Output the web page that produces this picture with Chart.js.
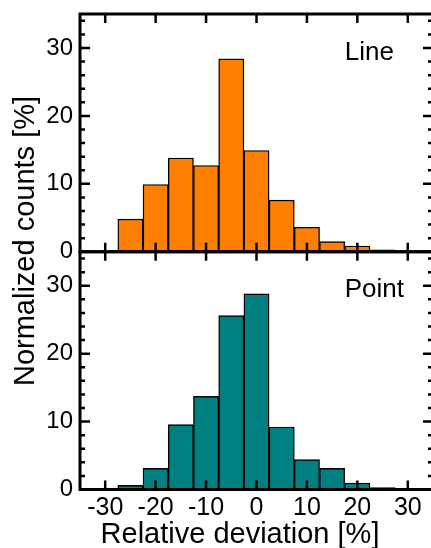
<!DOCTYPE html>
<html>
<head>
<meta charset="utf-8">
<script src="https://cdn.jsdelivr.net/npm/chart.js@4/dist/chart.umd.min.js"></script>
<style>
html, body { margin: 0; padding: 0; background: #fff; overflow: hidden; }
#wrap { position: relative; width: 436px; height: 548px; }
</style>
</head>
<body>
<div id="wrap"><canvas id="c" width="436" height="548"></canvas></div>
<script>
// bin centres [%] and normalized counts [%]
const binCenters  = [-25, -20, -15, -10, -5, 0, 5, 10, 15, 20, 25];
const lineCounts  = [4.8, 9.9, 13.8, 12.7, 28.4, 14.9, 7.6, 3.6, 1.5, 0.85, 0.3];
const pointCounts = [0.6, 3.1, 9.55, 13.7, 25.6, 28.8, 9.2, 4.4, 3.1, 0.95, 0.3];

const xTicks      = [-30, -20, -10, 0, 10, 20, 30];
const yTicks      = [0, 10, 20, 30];
const yMinorTicks = [2, 4, 6, 8, 12, 14, 16, 18, 22, 24, 26, 28, 32, 34];
const panelNames  = ['Line', 'Point'];
const xTitle      = 'Relative deviation [%]';
const yTitle      = 'Normalized counts [%]';

const FONT = '"Liberation Sans", Arial, Helvetica, sans-serif';
Chart.defaults.font.family = FONT;
Chart.defaults.color = '#000';

function points(ys) { return binCenters.map((x, i) => ({ x: x, y: ys[i] })); }

// --- frame, inward ticks, panel names, axis titles -------------------------
// (both titles sit on the centre of the whole figure, not of the plot box)
const framePlugin = {
	id: 'frame',
	afterDatasetsDraw(chart) {
		const ctx = chart.ctx;
		const xs  = chart.scales.x;
		const panels = [chart.scales.yTop, chart.scales.yBot];
		ctx.save();
		ctx.strokeStyle = '#000';
		ctx.fillStyle = '#000';
		panels.forEach((ys, k) => {
			const l = xs.left, r = xs.right, t = ys.top, b = ys.bottom;
			ctx.lineWidth = 2.5;
			ctx.beginPath();
			xTicks.forEach(v => {
				const px = xs.getPixelForValue(v);
				ctx.moveTo(px, t); ctx.lineTo(px, t + 9);
				ctx.moveTo(px, b); ctx.lineTo(px, b - 9);
			});
			yTicks.forEach(v => {
				const py = ys.getPixelForValue(v);
				ctx.moveTo(l, py); ctx.lineTo(l + 10, py);
				ctx.moveTo(r, py); ctx.lineTo(r - 10, py);
			});
			yMinorTicks.forEach(v => {
				const py = ys.getPixelForValue(v);
				ctx.moveTo(l, py); ctx.lineTo(l + 5, py);
				ctx.moveTo(r, py); ctx.lineTo(r - 5, py);
			});
			ctx.stroke();
			ctx.lineWidth = 3;
			ctx.strokeRect(l, t, r - l, b - t);

			ctx.font = '26px ' + FONT;
			ctx.textAlign = 'left';
			ctx.textBaseline = 'alphabetic';
			ctx.fillText(panelNames[k], xs.getPixelForValue(17.5), ys.getPixelForValue(28.3));
		});

		ctx.font = '29px ' + FONT;
		ctx.textAlign = 'center';
		ctx.textBaseline = 'alphabetic';
		ctx.fillText(xTitle, 240, 543);

		ctx.translate(26, 241);
		ctx.rotate(-Math.PI / 2);
		ctx.textBaseline = 'middle';
		ctx.fillText(yTitle, 0, 0);
		ctx.restore();
	}
};

function yScale() {
	return {
		type: 'linear', position: 'left', stack: 'panels', stackWeight: 1,
		min: 0, max: 35,
		grid: { display: false, drawTicks: false },
		border: { display: false },
		afterBuildTicks: s => { s.ticks = yTicks.map(v => ({ value: v })); },
		afterFit: s => { s.width = 80; s.paddingTop = 0; s.paddingBottom = 0; },
		ticks: { autoSkip: false, padding: 7, font: { size: 24 }, color: '#000' }
	};
}

new Chart(document.getElementById('c'), {
	type: 'bar',
	data: {
		datasets: [
			{ label: 'Line', data: points(lineCounts), yAxisID: 'yTop', grouped: false,
			  backgroundColor: '#ff8000', borderColor: '#000', borderWidth: 1.4,
			  barPercentage: 1, categoryPercentage: 1 },
			{ label: 'Point', data: points(pointCounts), yAxisID: 'yBot', grouped: false,
			  backgroundColor: '#008080', borderColor: '#000', borderWidth: 1.4,
			  barPercentage: 1, categoryPercentage: 1 }
		]
	},
	options: {
		responsive: false,
		animation: false,
		devicePixelRatio: 1,
		layout: { padding: { top: 14, right: 3, left: 0, bottom: 0 } },
		plugins: { legend: { display: false }, tooltip: { enabled: false } },
		scales: {
			x: {
				type: 'linear', position: 'bottom', min: -35, max: 35, offset: false,
				grid: { display: false, drawTicks: false, offset: false },
				border: { display: false },
				afterBuildTicks: s => { s.ticks = xTicks.map(v => ({ value: v })); },
				afterFit: s => { s.height = 58.5; s.paddingLeft = 0; s.paddingRight = 0; },
				ticks: { autoSkip: false, maxRotation: 0, padding: 4, font: { size: 25 }, color: '#000' }
			},
			yBot: yScale(),
			yTop: yScale()
		}
	},
	plugins: [framePlugin]
});
</script>
</body>
</html>
